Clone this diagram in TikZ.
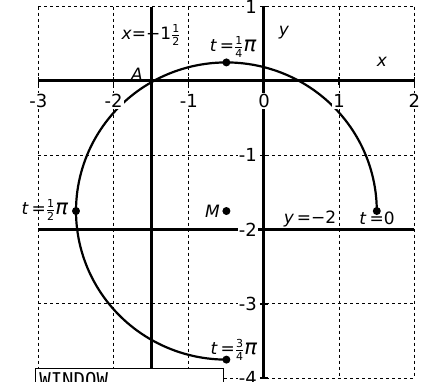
\documentclass[tikz,border=0pt]{standalone}
\usepackage{amsmath}
\usepackage{fontspec}
\setmainfont{DejaVu Sans}
\setmonofont{DejaVu Sans Mono}
\newcommand\myfr[2]{\ensuremath{\genfrac{}{}{0.6pt}{}{\text{\fontsize{11}{11}\selectfont #1}}{\text{\fontsize{11}{11}\selectfont #2}}}}
\newcommand\mypi{{\fontsize{21}{21}\selectfont\textit{π}}}
\begin{document}
\begin{tikzpicture}[x=75.2pt,y=74.3pt,
  gridline/.style={line width=1pt,dash pattern=on 3pt off 3pt},
  axisline/.style={line width=3pt},
  curveline/.style={line width=2.2pt},
  tickmark/.style={line width=1.4pt},
  ticklab/.style={fill=white,inner sep=1pt,font=\fontsize{18}{18}\selectfont},
  lbl/.style={inner sep=0pt,font=\fontsize{17}{17}\selectfont},
  dotmark/.style={circle,fill=black,inner sep=0pt,minimum size=8pt}]
\useasboundingbox (-264pt,-301pt) rectangle (165pt,81pt);
\clip (-264pt,-301pt) rectangle (165pt,81pt);
% grid
\foreach \gx in {-3,-2,-1,1,2} \draw[gridline] (\gx,1) -- (\gx,-4);
\foreach \gy in {1,-1,-3,-4} \draw[gridline] (-3,\gy) -- (2,\gy);
% thick lines
\draw[axisline] (-3,0) -- (2,0);
\draw[axisline] (-3,-2) -- (2,-2);
\draw[axisline] (0,1) -- (0,-4);
\draw[axisline] (-1.5,1) -- (-1.5,-4);
% ticks
\foreach \gx in {-3,-2,-1,1,2} \draw[tickmark] (\gx,0) ++(0,-4pt) -- ++(0,8pt);
\foreach \gy in {1,-1,-2,-3,-4} \draw[tickmark] (0,\gy) ++(-4pt,0) -- ++(8pt,0);
% curve
\draw[curveline] plot[domain=0:270,samples=150] ({-0.5+2*cos(\x)},{-1.75+2*sin(\x)});
% tick labels
\foreach \gx/\tl in {-3/-3,-2/-2,-1/-1,0/0,1/1,2/2}
  \node[ticklab,yshift=-20pt] (xl\gx) at (\gx,0) {\tl};
\foreach \gy/\tl in {1/1,-1/-1,-2/-2,-3/-3,-4/-4}
  \node[ticklab,anchor=east,xshift=-6pt] (yl\gy) at (0,\gy) {\tl};
% labels
\node[lbl] (lx) at (-1.5,0.62) {\textit{x}=−1\myfr{1}{2}};
\node[lbl] (lA) at (-1.69,0.09) {\textit{A}};
\node[lbl] (ly) at (0.266,0.646) {\textit{y}};
\node[lbl] (lxx) at (1.569,0.256) {\textit{x}};
\node[lbl] (lt1) at (-0.41,0.46) {\textit{t}\,=\myfr{1}{4}\mypi};
\node[lbl,anchor=east] (lt2) at (-2.6,-1.736) {\textit{t}\,=\myfr{1}{2}\mypi};
\node[lbl,anchor=east] (lM) at (-0.585,-1.75) {\textit{M}};
\node[lbl] (lyy) at (0.612,-1.857) {\textit{y}\,=−2};
\node[lbl] (lt0) at (1.503,-1.844) {\textit{t}\,=0};
\node[lbl] (lt3) at (-0.40,-3.62) {\textit{t}\,=\myfr{3}{4}\mypi};
% dots
\node[dotmark] (p0) at (1.5,-1.75) {};
\node[dotmark] (p1) at (-0.5,0.25) {};
\node[dotmark] (p2) at (-2.5,-1.75) {};
\node[dotmark] (p3) at (-0.5,-3.75) {};
\node[dotmark] (pM) at (-0.5,-1.75) {};
% window box
\draw[fill=white,line width=1pt] (-3.032,-3.876) rectangle (-0.545,-4.5);
\node[anchor=north west,inner sep=0pt,font=\ttfamily\fontsize{19}{19}\selectfont] (wintext) at (-2.99,-3.917) {WINDOW};
\end{tikzpicture}
\end{document}
